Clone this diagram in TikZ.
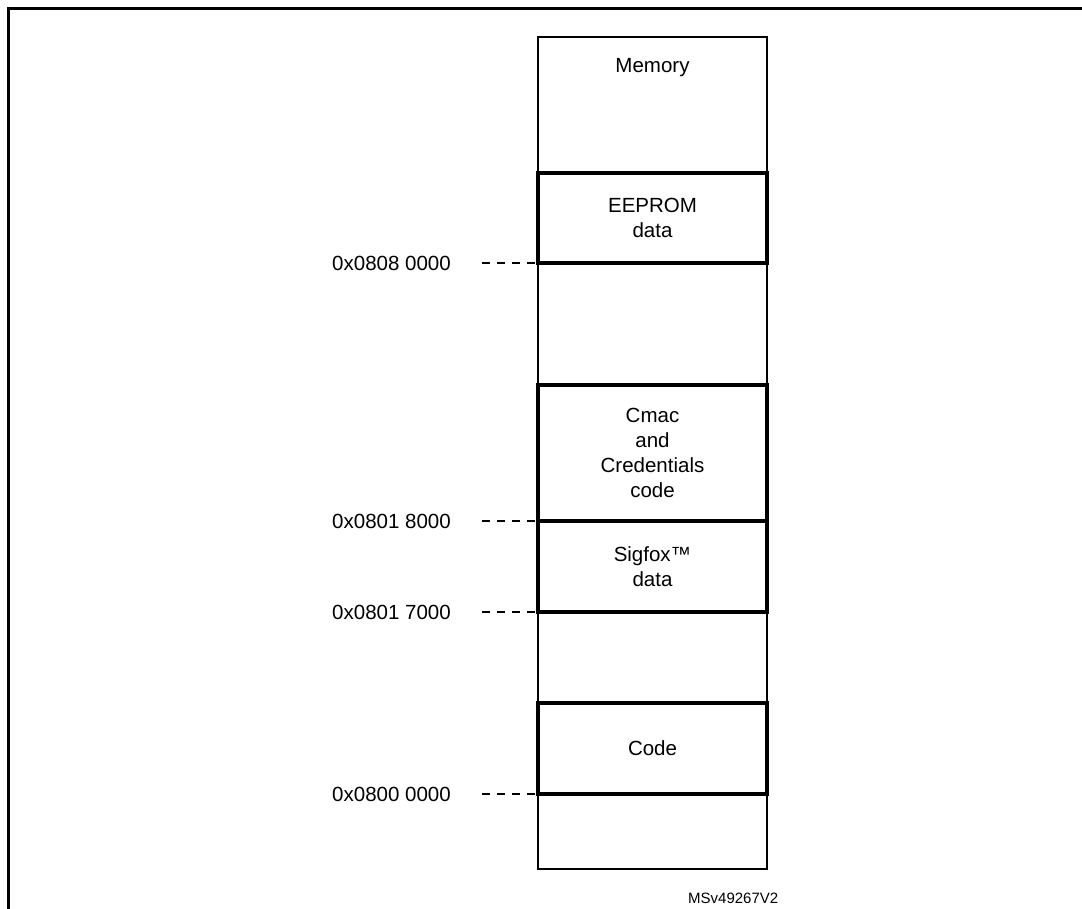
\documentclass[tikz,border=0pt]{standalone}
\usepackage{fontspec}
\setmainfont{Liberation Sans}
\newcommand{\lblfont}{\fontsize{20.5}{25}\selectfont}
\begin{document}
\begin{tikzpicture}[x=1pt,y=-1pt,
  blk/.style={draw, line width=4pt, fill=white, inner sep=0pt, outer sep=0pt, minimum width=229pt, align=center, font=\lblfont},
  addr/.style={anchor=east, inner sep=0pt, font=\lblfont},
  tick/.style={line width=1.2pt, dash pattern=on 8pt off 7pt}]
\useasboundingbox (0,0) rectangle (1082,908);
\draw[line width=3pt] (8,8) rectangle (1110,940);
\node[draw, line width=1.2pt, inner sep=0pt, outer sep=0pt, minimum width=229pt, minimum height=832pt] (mem) at (652.5,453) {};
\node[font=\lblfont, anchor=base, inner sep=0pt] (memlbl) at (652.5,72) {Memory};
\node[blk, minimum height=90pt] (eeprom) at (652.5,218) {EEPROM\\data};
\node[blk, minimum height=136pt] (cmac) at (652.5,453) {Cmac\\and\\Credentials\\code};
\node[blk, minimum height=91pt] (sigfox) at (652.5,566.5) {Sigfox™\\data};
\node[blk, minimum height=91pt] (code) at (652.5,748.5) {Code};
\coordinate (t1) at (482,263);
\coordinate (t2) at (482,521);
\coordinate (t3) at (482,612);
\coordinate (t4) at (482,794);
\draw[tick] (t1) -- (eeprom.south west);
\draw[tick] (t2) -- (cmac.south west);
\draw[tick] (t3) -- (sigfox.south west);
\draw[tick] (t4) -- (code.south west);
\node[addr] (a1) at (451,263) {0x0808 0000};
\node[addr] (a2) at (451,521) {0x0801 8000};
\node[addr] (a3) at (451,612) {0x0801 7000};
\node[addr] (a4) at (451,794) {0x0800 0000};
\node[font=\fontsize{15}{18}\selectfont, anchor=base west, inner sep=0pt] (ref) at (688,903) {MSv49267V2};
\end{tikzpicture}
\end{document}
